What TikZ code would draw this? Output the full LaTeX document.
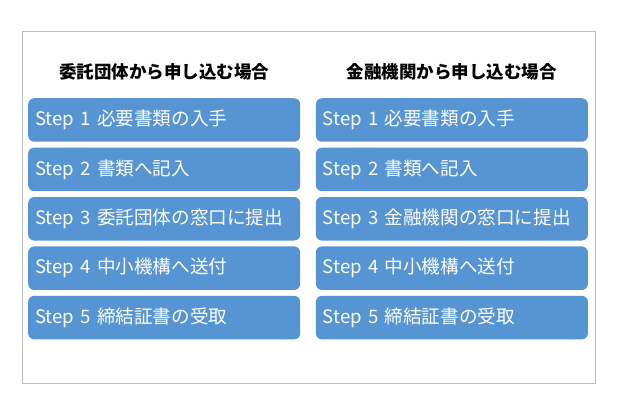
\documentclass[tikz,border=0pt]{standalone}
\usepackage{fontspec}
\newfontfamily\jpfont{Noto Sans CJK JP}
\usetikzlibrary{positioning}

\definecolor{stepblue}{RGB}{86,148,211}
\definecolor{framegray}{RGB}{190,190,190}

\begin{document}
\begin{tikzpicture}[x=1pt,y=1pt,node distance=5.5pt,
    stepbox/.style={fill=stepblue,rounded corners=6pt,text=white,
      minimum height=43.5pt,inner ysep=0pt,inner xsep=7pt,
      text width=258pt,align=left,anchor=west,
      font=\jpfont\fontsize{18.6}{20}\selectfont},
    heading/.style={font=\jpfont\bfseries\fontsize{17.5}{20}\selectfont}]
      \useasboundingbox (0,0) rectangle (618,-414);
      \draw[framegray] (22,-31) rectangle (595,-383);

      % left column
      \node[stepbox] (a1) at (28,-120) {Step 1 必要書類の入手};
      \node[stepbox] (a2) [below=of a1] {Step 2 書類へ記入};
      \node[stepbox] (a3) [below=of a2] {Step 3 委託団体の窓口に提出};
      \node[stepbox] (a4) [below=of a3] {Step 4 中小機構へ送付};
      \node[stepbox] (a5) [below=of a4] {Step 5 締結証書の受取};
      \node[heading] (ha) [above=14pt of a1] {委託団体から申し込む場合};

      % right column
      \node[stepbox] (b1) at (315.7,-120) {Step 1 必要書類の入手};
      \node[stepbox] (b2) [below=of b1] {Step 2 書類へ記入};
      \node[stepbox] (b3) [below=of b2] {Step 3 金融機関の窓口に提出};
      \node[stepbox] (b4) [below=of b3] {Step 4 中小機構へ送付};
      \node[stepbox] (b5) [below=of b4] {Step 5 締結証書の受取};
      \node[heading] (hb) [above=14pt of b1] {金融機関から申し込む場合};
    \end{tikzpicture}
\end{document}
